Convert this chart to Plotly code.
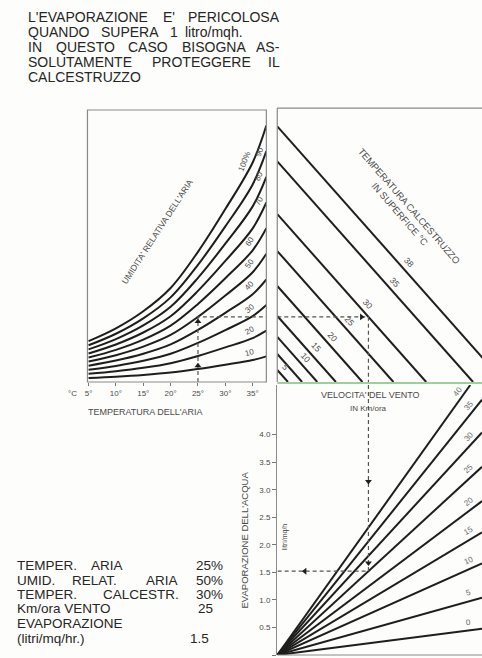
import math
import numpy as np
import plotly.graph_objects as go

W, H = 482, 658
FONT = "Liberation Sans"
INK = "#1e1e1e"
GREY_TXT = "#4a4a4a"

air_temp = [5, 10, 15, 20, 25, 30, 35, 37.5]            # °C
sat_vapour = [1.05, 1.38, 1.82, 2.42, 3.35, 4.45, 5.65, 6.6]  # 100 % curve (chart units)
rh_levels = [10, 20, 30, 40, 50, 60, 70, 80, 90, 100]
rh_labels = ["10", "20", "30", "40", "50", "60", "70", "80", "90", "100%"]
air_ticks = [5, 10, 15, 20, 25, 30, 35]
air_tick_text = ["5°", "10°", "15°", "20°", "25°", "30°", "35°"]

concrete_vapour = [6.58, 5.68, 4.32, 3.37, 2.47, 1.70, 1.16, 0.72, 0.31]
concrete_labels = ["38", "35", "30", "25", "20", "15", "10", "", "5"]

wind_speeds = [0, 5, 10, 15, 20, 25, 30, 35, 40]          # km/h
wind_factor = [0.08, 0.175, 0.28, 0.375, 0.47, 0.575, 0.68, 0.78, 0.875]

evap_ticks = [0, 0.5, 1.0, 1.5, 2.0, 2.5, 3.0, 3.5, 4.0]
evap_tick_text = ["0", "0.5", "1.0", "1.5", "2.0", "2.5", "3.0", "3.5", "4.0"]

example_air = 25
example_rh = 50
example_concrete = "30"
example_wind = 25

# ---------------- layout helpers (positions / styles) ----------------
def PX(x):
    return x / W

def PY(y):
    return 1 - y / H

X1_RANGE = [4.8, 37.5]
Y1_RANGE = [0, 7.0]
X2_RANGE = [0, 5.94]
Y3_RANGE = [0, 4.9]

rh_label_temp = [35.2, 35.2, 35.2, 35.2, 35.2, 35.2, 36.9, 36.9, 36.9, 34.3]
concrete_label_x = [3.81, 3.43, 2.62, 2.10, 1.61, 1.12, 0.84, None, 0.23]

fig = go.Figure()

# humidity curves
for rh in rh_levels:
    fig.add_trace(go.Scatter(
        x=air_temp, y=[rh / 100 * v for v in sat_vapour],
        mode="lines", line=dict(color=INK, width=2, shape="spline"),
        xaxis="x", yaxis="y", hoverinfo="skip", showlegend=False))

# concrete temperature lines
for v in concrete_vapour:
    fig.add_trace(go.Scatter(
        x=[0, v], y=[v, 0], mode="lines", line=dict(color=INK, width=2),
        xaxis="x2", yaxis="y", hoverinfo="skip", showlegend=False))

# wind lines
for k in wind_factor:
    xend = min(X2_RANGE[1], Y3_RANGE[1] / k)
    fig.add_trace(go.Scatter(
        x=[0, xend], y=[0, k * xend], mode="lines", line=dict(color=INK, width=2),
        xaxis="x3", yaxis="y3", hoverinfo="skip", showlegend=False))

# worked example (dashed path)
sat_at_air = sat_vapour[air_temp.index(example_air)]
ea = example_rh / 100 * sat_at_air
diff = concrete_vapour[concrete_labels.index(example_concrete)] - ea
evap = diff * wind_factor[wind_speeds.index(example_wind)]
dash = dict(color="#555555", width=1.2, dash="4px,3px")
fig.add_trace(go.Scatter(x=[example_air, example_air, X1_RANGE[1]], y=[0, ea, ea],
                         mode="lines", line=dash, xaxis="x", yaxis="y",
                         hoverinfo="skip", showlegend=False))
fig.add_trace(go.Scatter(x=[0, diff, diff], y=[ea, ea, 0], mode="lines", line=dash,
                         xaxis="x2", yaxis="y", hoverinfo="skip", showlegend=False))
fig.add_trace(go.Scatter(x=[diff, diff, 0], y=[Y3_RANGE[1], evap, evap], mode="lines",
                         line=dash, xaxis="x3", yaxis="y3", hoverinfo="skip", showlegend=False))
# arrow heads
fig.add_trace(go.Scatter(x=[example_air, example_air], y=[ea * 0.25, ea * 0.93],
                         mode="markers", marker=dict(symbol="triangle-up", size=6, color=INK),
                         xaxis="x", yaxis="y", hoverinfo="skip", showlegend=False))
fig.add_trace(go.Scatter(x=[diff - 0.2], y=[ea], mode="markers",
                         marker=dict(symbol="triangle-right", size=6, color=INK),
                         xaxis="x2", yaxis="y", hoverinfo="skip", showlegend=False))
fig.add_trace(go.Scatter(x=[diff, diff], y=[3.15, evap + 0.15], mode="markers",
                         marker=dict(symbol="triangle-down", size=6, color=INK),
                         xaxis="x3", yaxis="y3", hoverinfo="skip", showlegend=False))
fig.add_trace(go.Scatter(x=[0.8], y=[evap], mode="markers",
                         marker=dict(symbol="triangle-left", size=6, color=INK),
                         xaxis="x3", yaxis="y3", hoverinfo="skip", showlegend=False))

annotations = []

def note(text, x, y, size, xanchor="left", angle=0, color=GREY_TXT, xref="paper",
         yref="paper", yanchor="middle", xshift=0, yshift=0):
    annotations.append(dict(text=text, x=x, y=y, xref=xref, yref=yref, showarrow=False,
                            xanchor=xanchor, yanchor=yanchor, textangle=angle,
                            xshift=xshift, yshift=yshift, borderpad=0,
                            font=dict(family=FONT, size=size, color=color)))

# humidity labels
px_per_unit_y = (382 - 110) / (Y1_RANGE[1] - Y1_RANGE[0])
px_per_deg = (265 - 85) / (X1_RANGE[1] - X1_RANGE[0])
for rh, lab, t in zip(rh_levels, rh_labels, rh_label_temp):
    yv = rh / 100 * float(np.interp(t, air_temp, sat_vapour))
    slope = rh / 100 * float(np.interp(t, air_temp[:-1], np.diff(sat_vapour) / np.diff(air_temp)))
    ang = -math.degrees(math.atan(slope * px_per_unit_y / px_per_deg))
    note(lab, t, yv, 8, xanchor="center", angle=ang, xref="x", yref="y",
         xshift=-4, yshift=7)

# concrete labels
for v, lab, lx in zip(concrete_vapour, concrete_labels, concrete_label_x):
    if lab:
        note(lab, lx, v - lx, 8.5, xanchor="center", angle=48, xref="x2", yref="y",
             yshift=12)

# wind labels (at the cut right edge)
for k, s in zip(wind_factor, wind_speeds):
    lx = 5.62 if k * 5.62 < Y3_RANGE[1] - 0.15 else 5.3
    ang = -math.degrees(math.atan(k * (270 / 4.9) / (206 / 5.94)))
    note(str(s), lx, k * lx, 8, xanchor="center", angle=ang, xref="x3", yref="y3",
         xshift=-2, yshift=8, color="#6a6a6a")

# title (justified lines)
TS = 14
TC = "#262626"
for words, y in [
    ([("L'EVAPORAZIONE", 24, "left"), ("E'", 160, "left"), ("PERICOLOSA", 280, "right")], 17),
    ([("QUANDO", 24, "left"), ("SUPERA", 98, "left"), ("1", 167, "left"), ("litro/mqh.", 182, "left")], 32),
    ([("IN", 24, "left"), ("QUESTO", 52, "left"), ("CASO", 125, "left"), ("BISOGNA", 179, "left"), ("AS-", 280, "right")], 47),
    ([("SOLUTAMENTE", 24, "left"), ("PROTEGGERE", 149, "left"), ("IL", 280, "right")], 62),
    ([("CALCESTRUZZO", 24, "left")], 77),
]:
    for w, x, anc in words:
        note(w, PX(x), PY(y), TS, xanchor=anc, color=TC)

# bottom-left summary
BS = 13.5
for words, y in [
    ([("TEMPER.", 13), ("ARIA", 88), ("25%", 193)], 565),
    ([("UMID.", 13), ("RELAT.", 68), ("ARIA", 143), ("50%", 193)], 580),
    ([("TEMPER.", 13), ("CALCESTR.", 100), ("30%", 193)], 594),
    ([("Km/ora VENTO", 13), ("25", 195)], 608),
    ([("EVAPORAZIONE", 13)], 623),
    ([("(litri/mq/hr.)", 13), ("1.5", 187)], 638),
]:
    for w, x in words:
        note(w, PX(x), PY(y), BS, color=TC)

# axis / panel captions
note("°C", PX(64), PY(393), 8)
note("TEMPERATURA DELL'ARIA", PX(85), PY(412), 9)
note("UMIDITA' RELATIVA DELL'ARIA", PX(155), PY(232), 8.5, xanchor="center", angle=-57)
note("TEMPERATURA CALCESTRUZZO<br>IN SUPERFICE °C", PX(405), PY(210), 9.5,
     xanchor="center", angle=49)
note("VELOCITA' DEL VENTO", PX(370), PY(395), 9, xanchor="center")
note("IN Km/ora", PX(368), PY(408), 8, xanchor="center")
note("EVAPORAZIONE DELL'ACQUA", PX(243), PY(540), 9.5, xanchor="center", angle=-90)
note("litri/mq/h", PX(284), PY(537), 7, xanchor="center", angle=-90)

shapes = [
    dict(type="rect", xref="x domain", yref="y domain", x0=0, x1=1, y0=0, y1=1,
         line=dict(color="#8a8a8a", width=1.2)),
    dict(type="line", xref="x2 domain", yref="y domain", x0=0, x1=0, y0=0, y1=1.007,
         line=dict(color="#8a8a8a", width=1.2)),
    dict(type="line", xref="x2 domain", yref="y domain", x0=0, x1=1, y0=1.007, y1=1.007,
         line=dict(color="#8a8a8a", width=1.2)),
    dict(type="line", xref="x2 domain", yref="y domain", x0=0, x1=1, y0=-0.004, y1=-0.004,
         line=dict(color="#9ccf9c", width=2)),
    dict(type="line", xref="x3 domain", yref="y3 domain", x0=0, x1=1, y0=0, y1=0,
         line=dict(color="#8a8a8a", width=1.2)),
]

fig.update_layout(
    width=W, height=H, autosize=False,
    margin=dict(l=0, r=0, t=0, b=0),
    paper_bgcolor="#fdfdfb", plot_bgcolor="rgba(0,0,0,0)",
    showlegend=False, hovermode=False,
    annotations=annotations, shapes=shapes,
    xaxis=dict(domain=[PX(85), PX(265)], range=X1_RANGE, anchor="y",
               tickmode="array", tickvals=air_ticks, ticktext=air_tick_text,
               ticks="outside", ticklen=3, tickcolor="#777", showgrid=False,
               zeroline=False, showline=False,
               tickfont=dict(family=FONT, size=8, color=GREY_TXT)),
    yaxis=dict(domain=[PY(382), PY(110)], range=Y1_RANGE, anchor="x",
               showticklabels=False, ticks="", showgrid=False, zeroline=False),
    xaxis2=dict(domain=[PX(276), 1], range=X2_RANGE, anchor="y",
                showticklabels=False, ticks="", showgrid=False, zeroline=False),
    xaxis3=dict(domain=[PX(276), 1], range=X2_RANGE, anchor="y3", matches="x2",
                showticklabels=False, ticks="", showgrid=False, zeroline=False),
    yaxis3=dict(domain=[PY(655), PY(385)], range=Y3_RANGE, anchor="x3",
                tickmode="array", tickvals=evap_ticks, ticktext=evap_tick_text,
                ticks="outside", ticklen=4, tickcolor="#777",
                showline=True, linecolor="#8a8a8a", linewidth=1.2,
                showgrid=False, zeroline=False,
                tickfont=dict(family=FONT, size=8, color=GREY_TXT)),
)

fig.write_html("out.html", config={"displayModeBar": False, "staticPlot": True},
               post_script="document.body.style.margin='0';document.body.style.overflow='hidden';")
